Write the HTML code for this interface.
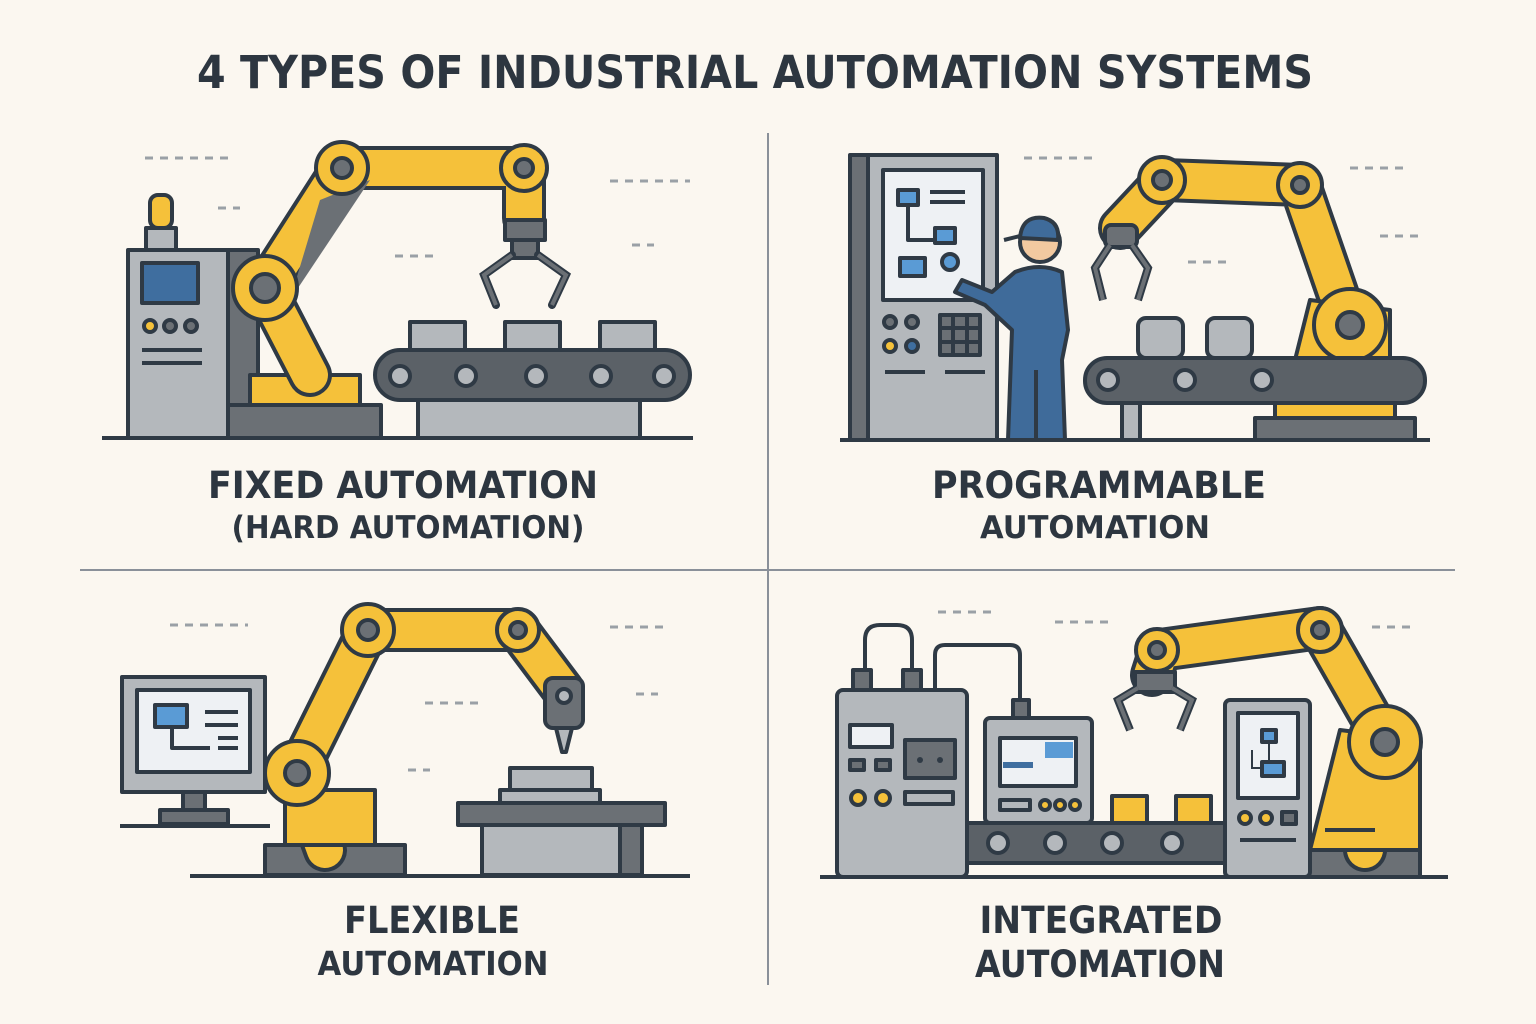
<!DOCTYPE html>
<html><head><meta charset="utf-8"><style>
html,body{margin:0;padding:0;background:#fbf7f0;}
svg{display:block}
text{font-family:"DejaVu Sans","Liberation Sans",sans-serif;font-weight:bold;fill:#2d3640;text-anchor:middle}
</style></head><body>
<svg width="1536" height="1024" viewBox="0 0 1536 1024" xmlns="http://www.w3.org/2000/svg">
<defs>
<style>
.o{stroke:#2f3a45;stroke-width:4;stroke-linejoin:round}
.g{fill:#b4b8bc}.dg{fill:#6b7075}.y{fill:#f5c13a}.b{fill:#3f6e9f}.w{fill:#eef1f4}
.arm{stroke:#2f3a45;stroke-linecap:round;fill:none}
.dash{stroke:#9aa0a6;stroke-width:3;stroke-dasharray:8 7}
</style>
</defs>
<rect width="1536" height="1024" fill="#fbf7f0"/>
<text x="755" y="88" font-size="45" textLength="1116" lengthAdjust="spacingAndGlyphs">4 TYPES OF INDUSTRIAL AUTOMATION SYSTEMS</text>
<line x1="768" y1="133" x2="768" y2="985" stroke="#8a9099" stroke-width="2"/>
<line x1="80" y1="570" x2="1455" y2="570" stroke="#8a9099" stroke-width="2"/>

<!-- decorative dashes -->
<g class="dash">
<line x1="145" y1="158" x2="232" y2="158"/><line x1="610" y1="181" x2="690" y2="181"/><line x1="218" y1="208" x2="240" y2="208"/>
<line x1="395" y1="256" x2="437" y2="256"/><line x1="632" y1="245" x2="654" y2="245"/>
<line x1="1024" y1="158" x2="1095" y2="158"/><line x1="1350" y1="168" x2="1408" y2="168"/><line x1="1380" y1="236" x2="1418" y2="236"/><line x1="1188" y1="262" x2="1226" y2="262"/>
<line x1="170" y1="625" x2="248" y2="625"/><line x1="610" y1="627" x2="668" y2="627"/><line x1="425" y1="703" x2="482" y2="703"/><line x1="636" y1="694" x2="658" y2="694"/><line x1="408" y1="770" x2="430" y2="770"/>
<line x1="938" y1="612" x2="992" y2="612"/><line x1="1055" y1="622" x2="1108" y2="622"/><line x1="1372" y1="627" x2="1416" y2="627"/>
</g>

<!-- PANEL 1 -->
<rect x="228" y="250" width="30" height="188" class="dg o"/>
<rect x="128" y="250" width="100" height="188" class="g o"/>
<rect x="142" y="263" width="56" height="40" class="b o"/>
<circle cx="150" cy="326" r="6" class="y o"/><circle cx="170" cy="326" r="6" class="dg o"/><circle cx="191" cy="326" r="6" class="dg o"/>
<line x1="142" y1="350" x2="202" y2="350" class="o"/><line x1="142" y1="363" x2="202" y2="363" class="o"/>
<rect x="146" y="228" width="30" height="22" class="g o"/><rect x="150" y="195" width="22" height="33" rx="8" class="y o"/>
<rect x="228" y="405" width="153" height="33" class="dg o"/>
<rect x="250" y="375" width="110" height="30" class="y o"/>
<g>
<path d="M310 375 L265 288 L342 168 L524 168 L524 218" class="arm" stroke-width="44" stroke-linejoin="round"/>
<path d="M310 375 L265 288 L342 168 L524 168 L524 218" stroke="#f5c13a" stroke-width="36" fill="none" stroke-linecap="round" stroke-linejoin="round"/>
<path d="M320 200 L370 180 L290 300 Z" class="dg"/>
</g>
<circle cx="265" cy="288" r="32" class="y o"/><circle cx="265" cy="288" r="14" class="dg o"/>
<circle cx="342" cy="168" r="26" class="y o"/><circle cx="342" cy="168" r="10" class="dg o"/>
<circle cx="524" cy="168" r="23" class="y o"/><circle cx="524" cy="168" r="9" class="dg o"/>
<rect x="505" y="220" width="40" height="20" class="dg o"/><rect x="512" y="240" width="26" height="18" class="dg o"/>
<path d="M512 255 L484 275 L496 305 M538 255 L566 275 L552 305" class="arm" stroke-width="8"/>
<path d="M512 255 L484 275 L496 305 M538 255 L566 275 L552 305" stroke="#6b7075" stroke-width="4" fill="none"/>
<rect x="418" y="398" width="222" height="40" class="g o"/>
<rect x="375" y="350" width="315" height="50" rx="25" fill="#5b6167" class="o"/>
<g class="g o"><circle cx="400" cy="376" r="10"/><circle cx="466" cy="376" r="10"/><circle cx="536" cy="376" r="10"/><circle cx="601" cy="376" r="10"/><circle cx="664" cy="376" r="10"/></g>
<g class="g o"><rect x="410" y="322" width="55" height="28"/><rect x="505" y="322" width="55" height="28"/><rect x="600" y="322" width="55" height="28"/></g>
<line x1="102" y1="438" x2="693" y2="438" class="o"/>
<text x="403" y="498" font-size="37" textLength="390" lengthAdjust="spacingAndGlyphs">FIXED AUTOMATION</text>
<text x="408" y="538" font-size="31" textLength="353" lengthAdjust="spacingAndGlyphs">(HARD AUTOMATION)</text>

<!-- PANEL 2 -->
<rect x="850" y="155" width="18" height="285" class="dg o"/>
<rect x="868" y="155" width="129" height="285" class="g o"/>
<rect x="883" y="170" width="100" height="130" class="w o"/>
<rect x="898" y="190" width="20" height="15" fill="#5a9bd5" class="o" stroke-width="3"/><line x1="930" y1="192" x2="965" y2="192" class="o" stroke-width="3"/><line x1="930" y1="202" x2="965" y2="202" class="o" stroke-width="3"/>
<path d="M908 205 V240 H940" class="o" fill="none" stroke-width="3"/><rect x="935" y="228" width="20" height="15" fill="#5a9bd5" class="o" stroke-width="3"/>
<rect x="900" y="258" width="25" height="18" fill="#5a9bd5" class="o" stroke-width="3"/><circle cx="950" cy="262" r="8" fill="#5a9bd5" class="o" stroke-width="3"/>
<circle cx="890" cy="322" r="6" class="dg o"/><circle cx="912" cy="322" r="6" class="dg o"/><circle cx="890" cy="346" r="6" class="y o"/><circle cx="912" cy="346" r="6" class="b o"/>
<rect x="940" y="315" width="40" height="40" class="dg o"/>
<path d="M953 315V355M967 315V355M940 328H980M940 342H980" class="o"/>
<line x1="885" y1="372" x2="925" y2="372" class="o"/><line x1="945" y1="372" x2="985" y2="372" class="o"/>
<path d="M1015 272 Q1040 262 1062 272 L1068 330 L1062 360 L1065 440 L1008 440 L1012 330 L985 305 L955 292 L962 280 L992 292 Z" fill="#3f6b9a" class="o"/>
<circle cx="1040" cy="242" r="20" fill="#f2c9a0" class="o"/>
<path d="M1020 238 Q1022 215 1044 218 Q1060 222 1058 240 Z M1020 236 L1004 240" fill="#3f6b9a" class="o"/>
<line x1="1036" y1="370" x2="1036" y2="440" class="o"/>
<rect x="1255" y="418" width="160" height="22" class="dg o"/>
<rect x="1275" y="400" width="120" height="18" class="y o"/>
<path d="M1350 330 L1300 185 L1165 180 L1120 228" class="arm" stroke-width="44" stroke-linejoin="round"/>
<path d="M1350 330 L1300 185 L1165 180 L1120 228" stroke="#f5c13a" stroke-width="36" fill="none" stroke-linecap="round" stroke-linejoin="round"/>
<path d="M1310 300 L1390 310 L1390 400 L1285 400 Z" class="y o"/>
<circle cx="1350" cy="325" r="36" class="y o"/><circle cx="1350" cy="325" r="13" class="dg o"/>
<circle cx="1300" cy="185" r="22" class="y o"/><circle cx="1300" cy="185" r="8" class="dg o"/>
<circle cx="1162" cy="180" r="23" class="y o"/><circle cx="1162" cy="180" r="9" class="dg o"/>
<rect x="1105" y="225" width="32" height="22" rx="6" class="dg o"/>
<path d="M1110 245 L1095 268 L1103 300 M1132 245 L1148 268 L1138 300" stroke="#2f3a45" stroke-width="8" fill="none"/>
<path d="M1110 245 L1095 268 L1103 300 M1132 245 L1148 268 L1138 300" stroke="#6b7075" stroke-width="4" fill="none"/>
<rect x="1122" y="400" width="18" height="40" class="g o"/>
<rect x="1085" y="358" width="340" height="45" rx="22" fill="#5b6167" class="o"/>
<g class="g o"><circle cx="1108" cy="380" r="10"/><circle cx="1185" cy="380" r="10"/><circle cx="1262" cy="380" r="10"/></g>
<g class="g o"><rect x="1138" y="318" width="45" height="40" rx="8"/><rect x="1207" y="318" width="45" height="40" rx="8"/></g>
<line x1="840" y1="440" x2="1430" y2="440" class="o"/>
<text x="1099" y="498" font-size="37" textLength="334" lengthAdjust="spacingAndGlyphs">PROGRAMMABLE</text>
<text x="1095" y="538" font-size="31" textLength="230" lengthAdjust="spacingAndGlyphs">AUTOMATION</text>

<!-- PANEL 3 -->
<rect x="122" y="677" width="143" height="115" class="g o"/>
<rect x="137" y="690" width="113" height="82" class="w o"/>
<rect x="155" y="705" width="32" height="22" fill="#5a9bd5" class="o" stroke-width="3"/>
<path d="M172 727 V748 H210 M205 712H238M205 725H238M218 738H238M218 748H238" class="o" fill="none" stroke-width="3"/>
<rect x="183" y="792" width="22" height="18" class="dg o"/><rect x="160" y="810" width="68" height="14" class="dg o"/>
<line x1="120" y1="826" x2="270" y2="826" class="o"/>
<rect x="265" y="845" width="140" height="30" class="dg o"/>
<path d="M325 850 L297 773 L368 630 L518 630 L563 690" class="arm" stroke-width="44" stroke-linejoin="round"/>
<path d="M325 850 L297 773 L368 630 L518 630 L563 690" stroke="#f5c13a" stroke-width="36" fill="none" stroke-linecap="round" stroke-linejoin="round"/>
<rect x="285" y="790" width="90" height="55" class="y o"/>
<circle cx="297" cy="773" r="32" class="y o"/><circle cx="297" cy="773" r="12" class="dg o"/>
<circle cx="368" cy="630" r="26" class="y o"/><circle cx="368" cy="630" r="10" class="dg o"/>
<circle cx="518" cy="630" r="21" class="y o"/><circle cx="518" cy="630" r="8" class="dg o"/>
<rect x="545" y="678" width="38" height="50" rx="8" class="dg o"/><circle cx="564" cy="696" r="7" class="g o"/>
<path d="M556 728 H572 L566 752 H562 Z" class="g o"/>
<rect x="482" y="823" width="160" height="52" class="g o"/>
<rect x="620" y="823" width="22" height="52" class="dg o"/>
<rect x="458" y="803" width="207" height="22" class="dg o"/>
<rect x="500" y="790" width="100" height="13" class="g o"/>
<rect x="510" y="768" width="82" height="22" class="g o"/>
<line x1="190" y1="876" x2="690" y2="876" class="o"/>
<text x="432" y="933" font-size="37" textLength="176" lengthAdjust="spacingAndGlyphs">FLEXIBLE</text>
<text x="433" y="975" font-size="33" textLength="231" lengthAdjust="spacingAndGlyphs">AUTOMATION</text>

<!-- PANEL 4 -->
<path d="M865 690 V640 Q865 625 880 625 H897 Q912 625 912 640 V690" fill="none" class="o" stroke-width="5"/>
<path d="M935 690 V655 Q935 645 945 645 H1010 Q1020 645 1020 655 V718" fill="none" class="o" stroke-width="5"/>
<rect x="853" y="670" width="18" height="20" class="dg o"/><rect x="903" y="670" width="18" height="20" class="dg o"/><rect x="1013" y="700" width="16" height="18" class="dg o"/>
<rect x="837" y="690" width="130" height="187" rx="6" class="g o"/>
<rect x="850" y="725" width="42" height="22" class="w o"/>
<rect x="850" y="760" width="14" height="10" class="dg o"/><rect x="876" y="760" width="14" height="10" class="dg o"/>
<rect x="905" y="740" width="50" height="38" class="dg o"/><circle cx="920" cy="760" r="3" fill="#2f3a45"/><circle cx="940" cy="760" r="3" fill="#2f3a45"/>
<circle cx="858" cy="798" r="7" class="y o"/><circle cx="883" cy="798" r="7" class="y o"/><rect x="905" y="792" width="48" height="12" class="g o"/>
<rect x="985" y="718" width="107" height="105" rx="5" class="g o"/>
<rect x="1000" y="738" width="76" height="48" class="w o"/><rect x="1045" y="742" width="28" height="16" fill="#5a9bd5"/><rect x="1003" y="762" width="30" height="6" class="b"/>
<rect x="1000" y="800" width="30" height="10" class="g o"/><circle cx="1045" cy="805" r="5" class="y o"/><circle cx="1060" cy="805" r="5" class="y o"/><circle cx="1075" cy="805" r="5" class="y o"/>
<rect x="1300" y="850" width="120" height="27" class="dg o"/>
<path d="M1365 850 L1385 742 L1320 628 L1160 650 L1152 675" class="arm" stroke-width="44" stroke-linejoin="round"/>
<path d="M1365 850 L1385 742 L1320 628 L1160 650 L1152 675" stroke="#f5c13a" stroke-width="36" fill="none" stroke-linecap="round" stroke-linejoin="round"/>
<path d="M1340 730 L1420 740 L1420 850 L1310 850 Z" class="y o"/>
<line x1="1325" y1="830" x2="1375" y2="830" class="o"/>
<circle cx="1385" cy="742" r="36" class="y o"/><circle cx="1385" cy="742" r="13" class="dg o"/>
<circle cx="1320" cy="630" r="22" class="y o"/><circle cx="1320" cy="630" r="8" class="dg o"/>
<circle cx="1157" cy="650" r="21" class="y o"/><circle cx="1157" cy="650" r="8" class="dg o"/>
<rect x="1135" y="672" width="40" height="20" class="dg o"/>
<path d="M1138 688 L1118 700 L1130 730 M1172 688 L1192 700 L1180 730" stroke="#2f3a45" stroke-width="8" fill="none"/>
<path d="M1138 688 L1118 700 L1130 730 M1172 688 L1192 700 L1180 730" stroke="#6b7075" stroke-width="4" fill="none"/>
<rect x="967" y="823" width="260" height="40" fill="#5b6167" class="o"/>
<g class="g o"><circle cx="998" cy="843" r="10"/><circle cx="1055" cy="843" r="10"/><circle cx="1112" cy="843" r="10"/><circle cx="1172" cy="843" r="10"/></g>
<rect x="1112" y="796" width="35" height="27" class="y o"/><rect x="1176" y="796" width="35" height="27" class="y o"/>
<rect x="1225" y="700" width="85" height="177" rx="5" class="g o"/>
<rect x="1238" y="713" width="60" height="85" class="w o"/>
<rect x="1262" y="730" width="14" height="12" fill="#5a9bd5" class="o" stroke-width="2"/><path d="M1269 742 V768 M1252 750 V768 H1262" stroke="#2f3a45" stroke-width="2" fill="none"/><rect x="1262" y="762" width="22" height="14" fill="#5a9bd5" class="o" stroke-width="2"/>
<circle cx="1245" cy="818" r="6" class="y o"/><circle cx="1266" cy="818" r="6" class="y o"/><rect x="1282" y="812" width="14" height="12" class="dg o"/>
<line x1="1240" y1="840" x2="1296" y2="840" class="o"/>
<line x1="820" y1="877" x2="1448" y2="877" class="o"/>
<text x="1101" y="933" font-size="37" textLength="243" lengthAdjust="spacingAndGlyphs">INTEGRATED</text>
<text x="1100" y="977" font-size="37" textLength="250" lengthAdjust="spacingAndGlyphs">AUTOMATION</text>
</svg>
</body></html>
